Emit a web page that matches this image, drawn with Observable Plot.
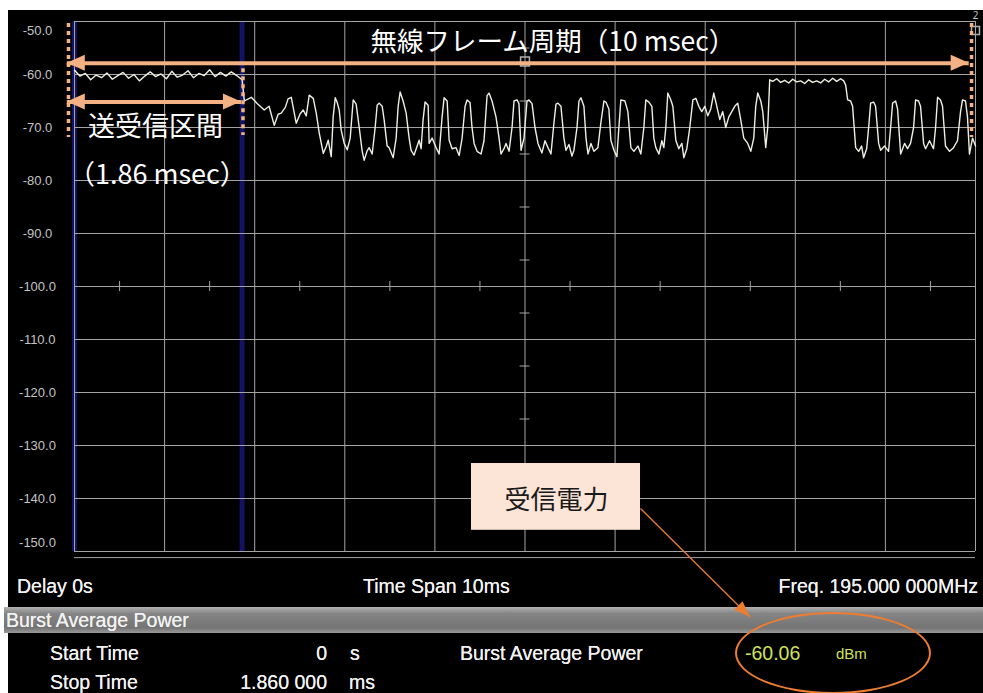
<!DOCTYPE html>
<html><head><meta charset="utf-8">
<script src="https://cdn.jsdelivr.net/npm/d3@7"></script>
<script src="https://cdn.jsdelivr.net/npm/@observablehq/plot@0.6"></script>
<style>
body{margin:0;background:#fff;}
#wrap{position:relative;width:983px;height:693px;overflow:hidden;background:#fff;font-family:"Liberation Sans",Arial,sans-serif;}
#screen{position:absolute;left:8px;top:10px;width:975px;height:683px;background:#000;}
#chart{position:absolute;left:0;top:0;}
.t{position:absolute;color:#f2f2f2;font-size:19.5px;line-height:20px;white-space:nowrap;text-shadow:0 0 0.6px #f2f2f2;}
#bar{position:absolute;left:4px;top:607px;width:979px;height:26px;overflow:hidden;background:linear-gradient(#b0b0b0,#858585 25%,#747474 80%,#9a9a9a);}
#ellipse{position:absolute;left:735px;top:612px;width:192px;height:78px;border:2px solid #ed7d31;border-radius:50%;}
</style></head>
<body>
<div id="wrap">
  <div id="screen"></div>
  <div id="bar"><div class="t" id="bar-title" style="left:2px;top:3px;"></div></div>
  <div id="chart"></div>
  <div class="t" id="delay" style="left:17px;top:576px;"></div>
  <div class="t" id="span" style="left:363px;top:576px;"></div>
  <div class="t" id="freq" style="right:5px;top:576px;"></div>
  <div class="t" id="r1a" style="left:50px;top:643px;"></div>
  <div class="t" id="r1b" style="right:656px;top:643px;"></div>
  <div class="t" id="r1c" style="left:350px;top:643px;"></div>
  <div class="t" id="r1d" style="left:460px;top:643px;"></div>
  <div class="t" id="r1e" style="left:745px;top:643px;color:#cfe35a;text-shadow:none;"></div>
  <div class="t" id="r1f" style="left:836px;top:644px;color:#cfe35a;font-size:15px;text-shadow:none;"></div>
  <div class="t" id="r2a" style="left:50px;top:672px;"></div>
  <div class="t" id="r2b" style="right:656px;top:672px;"></div>
  <div class="t" id="r2c" style="left:349px;top:672px;"></div>
  <div id="ellipse"></div>
</div>
<script>
// ---- axis ticks ----
const yTicks = [-50,-60,-70,-80,-90,-100,-110,-120,-130,-140,-150];
const xTicks = [0,1,2,3,4,5,6,7,8,9,10];
const halfDb = [-55,-65,-75,-85,-95,-105,-115,-125,-135,-145];
const halfMs = [0.5,1.5,2.5,3.5,4.5,5.5,6.5,7.5,8.5,9.5];
const gateMs = [0, 1.86];

// ---- trace (time in ms, level in dBm) ----
const traceMs = [
0.00,0.06,0.12,0.18,0.24,0.30,0.36,0.42,0.48,0.54,0.60,0.66,0.72,0.78,0.84,0.90,0.96,1.02,1.08,1.14,1.20,1.26,1.32,1.38,1.44,1.50,1.56,1.62,1.68,1.74,1.80,1.86,
1.885,1.962,2.03,2.106,2.16,2.217,2.26,2.295,2.34,2.37,2.406,2.461,2.505,2.539,2.572,2.605,2.65,2.683,2.716,2.761,2.794,2.816,2.849,2.871,2.894,2.916,2.938,2.96,2.993,3.027,3.06,3.093,3.126,3.16,3.193,3.215,3.248,3.27,3.304,3.337,3.359,3.381,3.415,3.437,3.47,3.492,3.537,3.57,3.592,3.614,3.647,3.681,3.714,3.736,3.769,3.803,3.825,3.847,3.869,3.891,3.925,3.936,3.969,4.013,4.047,4.08,4.102,4.136,4.158,4.191,4.235,4.269,4.302,4.335,4.357,4.39,4.412,4.435,4.468,4.512,4.545,4.579,4.601,4.634,4.678,4.712,4.734,4.767,4.789,4.823,4.856,4.878,4.911,4.933,4.956,4.989,5.022,5.044,5.078,5.111,5.144,5.188,5.222,5.255,5.288,5.322,5.344,5.366,5.399,5.432,5.455,5.488,5.521,5.543,5.577,5.599,5.621,5.654,5.677,5.699,5.732,5.765,5.809,5.843,5.876,5.898,5.931,5.953,5.987,6.02,6.042,6.064,6.109,6.142,6.175,6.209,6.253,6.286,6.319,6.341,6.375,6.408,6.43,6.452,6.486,6.519,6.541,6.563,6.585,6.619,6.641,6.674,6.707,6.741,6.763,6.796,6.829,6.863,6.896,6.929,6.962,6.996,7.029,7.062,7.095,7.129,7.162,7.195,7.228,7.262,7.295,7.328,7.361,7.395,7.428,7.472,7.506,7.539,7.561,7.583,7.617,7.639,7.672,7.694,7.716,
7.749,7.794,7.838,7.883,7.927,7.971,8.016,8.06,8.104,8.149,8.193,8.237,8.282,8.326,8.37,8.415,8.459,8.503,8.537,8.559,
8.581,8.614,8.636,8.67,8.703,8.736,8.758,8.792,8.814,8.836,8.869,8.891,8.925,8.947,8.991,9.035,9.058,9.08,9.113,9.135,9.169,9.213,9.246,9.279,9.313,9.335,9.368,9.39,9.424,9.446,9.49,9.534,9.557,9.579,9.612,9.634,9.667,9.712,9.756,9.8,9.834,9.856,9.889,9.911,9.933,9.967,10.0
];
const traceDbm = [
-59.2,-60.3,-59.8,-61.0,-60.1,-60.6,-59.7,-60.9,-60.2,-59.6,-60.7,-60.0,-61.2,-60.3,-59.5,-60.4,-59.9,-60.8,-59.4,-60.5,-60.1,-59.3,-60.6,-59.8,-60.2,-59.1,-60.4,-59.6,-60.3,-59.5,-60.2,-61.0,
-65.0,-64.3,-65.5,-66.7,-66.0,-69.6,-67.5,-67.3,-66.2,-64.6,-64.3,-69.2,-67.4,-66.7,-67.8,-63.9,-64.5,-67.3,-71.0,-74.9,-73.6,-72.4,-75.5,-68.0,-64.4,-65.3,-66.7,-70.5,-73.0,-74.2,-72.0,-64.8,-65.6,-70.0,-74.5,-76.2,-74.4,-73.8,-75.0,-70.0,-65.8,-65.4,-66.0,-68.6,-73.5,-73.8,-75.7,-72.0,-66.0,-63.3,-65.0,-67.3,-72.0,-74.3,-75.2,-73.5,-72.4,-74.0,-68.5,-65.2,-65.8,-73.0,-72.0,-73.8,-75.0,-68.0,-64.4,-65.0,-72.4,-74.0,-73.8,-75.3,-72.0,-66.0,-64.8,-65.3,-70.0,-73.0,-74.5,-75.0,-72.5,-64.0,-63.5,-65.0,-68.0,-72.0,-75.0,-74.0,-73.0,-74.5,-70.0,-65.0,-64.8,-65.5,-74.3,-72.0,-65.0,-64.8,-65.5,-70.0,-73.0,-74.8,-72.5,-73.8,-75.0,-69.0,-65.6,-65.4,-66.0,-72.0,-74.3,-73.2,-75.4,-74.3,-70.0,-65.0,-64.4,-66.0,-72.0,-75.0,-73.0,-74.5,-73.8,-69.0,-65.0,-65.2,-66.5,-72.4,-74.3,-75.5,-70.0,-64.8,-65.0,-67.0,-73.8,-74.5,-73.5,-75.0,-70.0,-64.8,-65.2,-66.0,-72.0,-73.8,-75.0,-72.5,-73.8,-70.0,-63.5,-64.8,-66.0,-72.4,-74.0,-73.0,-75.7,-74.0,-70.0,-64.8,-64.5,-66.0,-67.0,-66.0,-67.8,-66.5,-63.5,-66.0,-68.5,-67.0,-70.0,-68.0,-67.0,-66.0,-65.4,-68.6,-72.0,-73.0,-74.5,-72.0,-66.0,-63.5,-65.0,-67.0,-73.8,-70.0,-61.0,
-61.3,-60.8,-61.5,-61.1,-61.6,-60.9,-61.4,-61.2,-61.7,-61.0,-61.5,-61.2,-61.6,-60.9,-61.4,-60.7,-61.3,-60.8,-61.2,-62.0,
-64.8,-65.0,-66.0,-73.8,-74.5,-73.5,-75.7,-74.0,-70.0,-65.4,-65.2,-66.0,-73.0,-74.3,-73.5,-74.5,-70.0,-65.4,-65.0,-66.5,-75.0,-73.0,-74.0,-73.0,-70.0,-64.8,-65.0,-66.0,-73.0,-74.0,-72.5,-74.0,-70.0,-64.3,-64.8,-66.0,-73.5,-74.5,-73.8,-72.5,-67.0,-64.8,-65.0,-68.0,-75.0,-72.0,-73.5
];
const trace = traceMs.map((t, i) => ({t, v: traceDbm[i]}));

// ---- annotation texts & values ----
const frameText = "無線フレーム周期（10 msec）";
const txText = "送受信区間";
const txDurText = "（1.86 msec）";
const rxText = "受信電力";
const frameArrow = {y: -57.9, x1: -0.08, x2: 9.93};
const txArrow = {y: -65.2, x1: -0.08, x2: 1.853};
const dotted = [{x: -0.067, y1: -50.4, y2: -71.9}, {x: 1.87, y1: -58.9, y2: -71.5}, {x: 9.956, y1: -50.4, y2: -71.9}];
const rxBox = {x1: 4.406, x2: 6.282, y1: -133.4, y2: -146.0};
const callout = {x1: 6.282, y1: -141.9, x2: 7.5, y2: -162.4};

// panel texts
const panel = {
  "bar-title": "Burst Average Power",
  delay: "Delay 0s", span: "Time Span 10ms", freq: "Freq. 195.000 000MHz",
  r1a: "Start Time", r1b: "0", r1c: "s", r1d: "Burst Average Power", r1e: "-60.06", r1f: "dBm",
  r2a: "Stop Time", r2b: "1.860 000", r2c: "ms"
};
for (const k in panel) document.getElementById(k).textContent = panel[k];

const grid = "#a4a4a4";
const peach = "#f4b183";
const orange = "#ed7d31";
const jp = "'Noto Sans CJK JP', sans-serif";

const plot = Plot.plot({
  width: 983, height: 693,
  marginLeft: 74, marginRight: 8, marginTop: 21, marginBottom: 142,
  x: {domain: [0, 10], axis: null},
  y: {domain: [-150, -50], axis: null},
  style: {background: "transparent", overflow: "visible"},
  marks: [
    Plot.ruleX(gateMs, {stroke: "#131366", strokeWidth: 5}),
    Plot.ruleX(xTicks, {stroke: grid, strokeWidth: 1}),
    Plot.ruleY(yTicks, {stroke: grid, strokeWidth: 1}),
    Plot.ruleY([-151.15], {stroke: grid, strokeWidth: 1}),
    Plot.ruleY(halfDb, {y: d => d, x1: 4.945, x2: 5.055, stroke: grid}),
    Plot.ruleX(halfMs, {x: d => d, y1: -100.95, y2: -99.05, stroke: grid}),
    Plot.text(yTicks.slice(1, -1), {x: 0, y: d => d, text: d => d.toFixed(1), dx: -37, fill: "#c4c4c4", fontSize: 13, fontFamily: "Liberation Sans"}),
    Plot.text([yTicks[0]], {x: 0, y: d => d, text: d => d.toFixed(1), dx: -37, dy: 9, fill: "#c4c4c4", fontSize: 13, fontFamily: "Liberation Sans"}),
    Plot.text([yTicks[yTicks.length - 1]], {x: 0, y: d => d, text: d => d.toFixed(1), dx: -37, dy: -9, fill: "#c4c4c4", fontSize: 13, fontFamily: "Liberation Sans"}),
    Plot.dot([{t: 5.0, v: -57.55}], {x: "t", y: "v", symbol: "square", r: 5, stroke: "#b0b0b0", fill: "none"}),
    Plot.dot([{t: 10.0, v: -51.7}], {x: "t", y: "v", symbol: "square", r: 4.5, stroke: "#b0b0b0", fill: "none"}),
    Plot.text(["2"], {x: 10, y: -48.9, text: d => d, fill: "#c0c0c0", fontSize: 10}),
    Plot.line(trace, {x: "t", y: "v", stroke: "#efefe2", strokeWidth: 1.4}),
    // annotations
    Plot.ruleX(dotted, {x: "x", y1: "y1", y2: "y2", stroke: peach, strokeWidth: 3.5, strokeDasharray: "4,4"}),
    Plot.ruleY([frameArrow], {y: "y", x1: "x1", x2: "x2", stroke: peach, strokeWidth: 4}),
    Plot.ruleY([txArrow], {y: "y", x1: "x1", x2: "x2", stroke: peach, strokeWidth: 4}),
    Plot.text([frameText], {x: 5.31, y: -53.96, text: d => d, fill: "#ffffff", fontSize: 26.5, fontFamily: jp}),
    Plot.text([txText], {x: 0.9, y: -70.0, text: d => d, fill: "#ffffff", fontSize: 27, fontFamily: jp}),
    Plot.text([txDurText], {x: 0.92, y: -79.05, text: d => d, fill: "#ffffff", fontSize: 27, fontFamily: jp}),
    Plot.rect([rxBox], {x1: "x1", x2: "x2", y1: "y1", y2: "y2", fill: "#fce4d6"}),
    Plot.text([rxText], {x: 5.35, y: -140.4, text: d => d, fill: "#1a1a1a", fontSize: 26, fontFamily: jp}),
    Plot.link([callout], {x1: "x1", y1: "y1", x2: "x2", y2: "y2", stroke: orange, strokeWidth: 1.3})
  ]
});
document.getElementById("chart").appendChild(plot);

// filled arrowheads placed with the plot's own scales
const sx = plot.scale("x"), sy = plot.scale("y");
function head(tipX, tipY, fromX, fromY, len, wid, color) {
  const x2 = sx.apply(tipX), y2 = sy.apply(tipY), x1 = sx.apply(fromX), y1 = sy.apply(fromY);
  const a = Math.atan2(y2 - y1, x2 - x1);
  const bx = x2 - len * Math.cos(a), by = y2 - len * Math.sin(a);
  const px = -Math.sin(a) * wid / 2, py = Math.cos(a) * wid / 2;
  d3.select(plot).append("polygon")
    .attr("points", `${x2},${y2} ${bx + px},${by + py} ${bx - px},${by - py}`)
    .attr("fill", color);
}
head(frameArrow.x1, frameArrow.y, frameArrow.x2, frameArrow.y, 18, 16, peach);
head(frameArrow.x2, frameArrow.y, frameArrow.x1, frameArrow.y, 18, 16, peach);
head(txArrow.x1, txArrow.y, txArrow.x2, txArrow.y, 18, 16, peach);
head(txArrow.x2, txArrow.y, txArrow.x1, txArrow.y, 18, 16, peach);
head(callout.x2, callout.y2, callout.x1, callout.y1, 16, 12, orange);
</script>
</body></html>
